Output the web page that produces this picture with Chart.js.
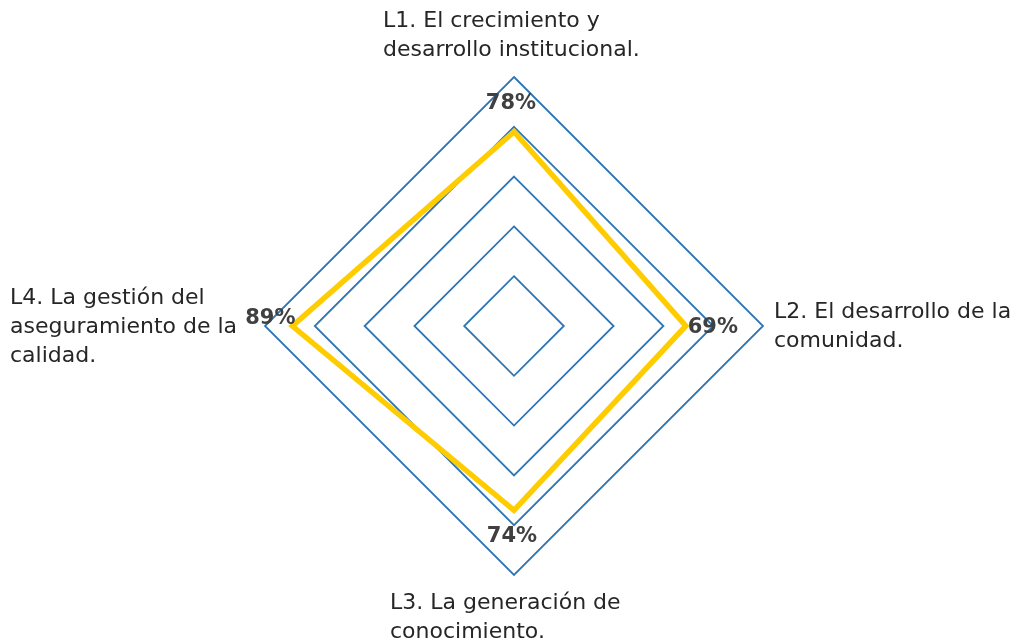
<!DOCTYPE html>
<html>
<head>
<meta charset="utf-8">
<script src="https://cdn.jsdelivr.net/npm/chart.js@4"></script>
<style>
  html, body { margin: 0; padding: 0; background: #fff; }
  #wrap { width: 1020px; height: 644px; }
</style>
</head>
<body>
<div id="wrap"><canvas id="myChart"></canvas></div>
<script>
const lineas = [
  ['L1. El crecimiento y', 'desarrollo institucional.'],
  ['L2. El desarrollo de la', 'comunidad.'],
  ['L3. La generación de', 'conocimiento.'],
  ['L4. La gestión del', 'aseguramiento de la', 'calidad.']
];
const valores = [78, 69, 74, 89];
const escalaMax = 100;
const escalaPaso = 20;

// where each label block sits relative to the axis end (text is left aligned)
const labelOffsets = [[-131, -56], [11, -14], [-124, 28], [-255, -28]];
const valueOffsets = [[-3, -28], [27, 2], [-2, 26], [-22, -7]];

const labelsPlugin = {
  id: 'labelsPlugin',
  afterDraw(chart) {
    const ctx = chart.ctx;
    const scale = chart.scales.r;
    ctx.save();
    ctx.textBaseline = 'middle';
    ctx.textAlign = 'left';
    ctx.fillStyle = '#262626';
    ctx.font = '22px "Century Gothic", "DejaVu Sans", sans-serif';
    lineas.forEach((lns, i) => {
      const p = scale.getPointPositionForValue(i, escalaMax);
      lns.forEach((t, j) => {
        ctx.fillText(t, p.x + labelOffsets[i][0], p.y + labelOffsets[i][1] + j * 29);
      });
    });
    ctx.textAlign = 'center';
    ctx.fillStyle = '#404040';
    ctx.font = 'bold 21px "Century Gothic", "DejaVu Sans", sans-serif';
    valores.forEach((v, i) => {
      const p = scale.getPointPositionForValue(i, v);
      ctx.fillText(v + '%', p.x + valueOffsets[i][0], p.y + valueOffsets[i][1]);
    });
    ctx.restore();
  }
};

const data = {
  labels: lineas,
  datasets: [{
    label: 'Avance',
    data: valores,
    borderColor: '#FFCC00',
    backgroundColor: 'rgba(0,0,0,0)',
    borderWidth: 5.5,
    borderJoinStyle: 'miter',
    pointRadius: 0,
    fill: false
  }]
};

const config = {
  type: 'radar',
  data: data,
  options: {
    responsive: true,
    maintainAspectRatio: false,
    animation: false,
    layout: { padding: { top: 77, bottom: 69, left: 265, right: 257 } },
    plugins: { legend: { display: false }, tooltip: { enabled: false } },
    scales: {
      r: {
        min: 0,
        max: escalaMax,
        ticks: { display: false, stepSize: escalaPaso },
        pointLabels: { display: false },
        angleLines: { display: false },
        grid: { color: '#2E75B6', lineWidth: 1.8 }
      }
    }
  },
  plugins: [labelsPlugin]
};

const myChart = new Chart(document.getElementById('myChart'), config);
</script>
</body>
</html>
